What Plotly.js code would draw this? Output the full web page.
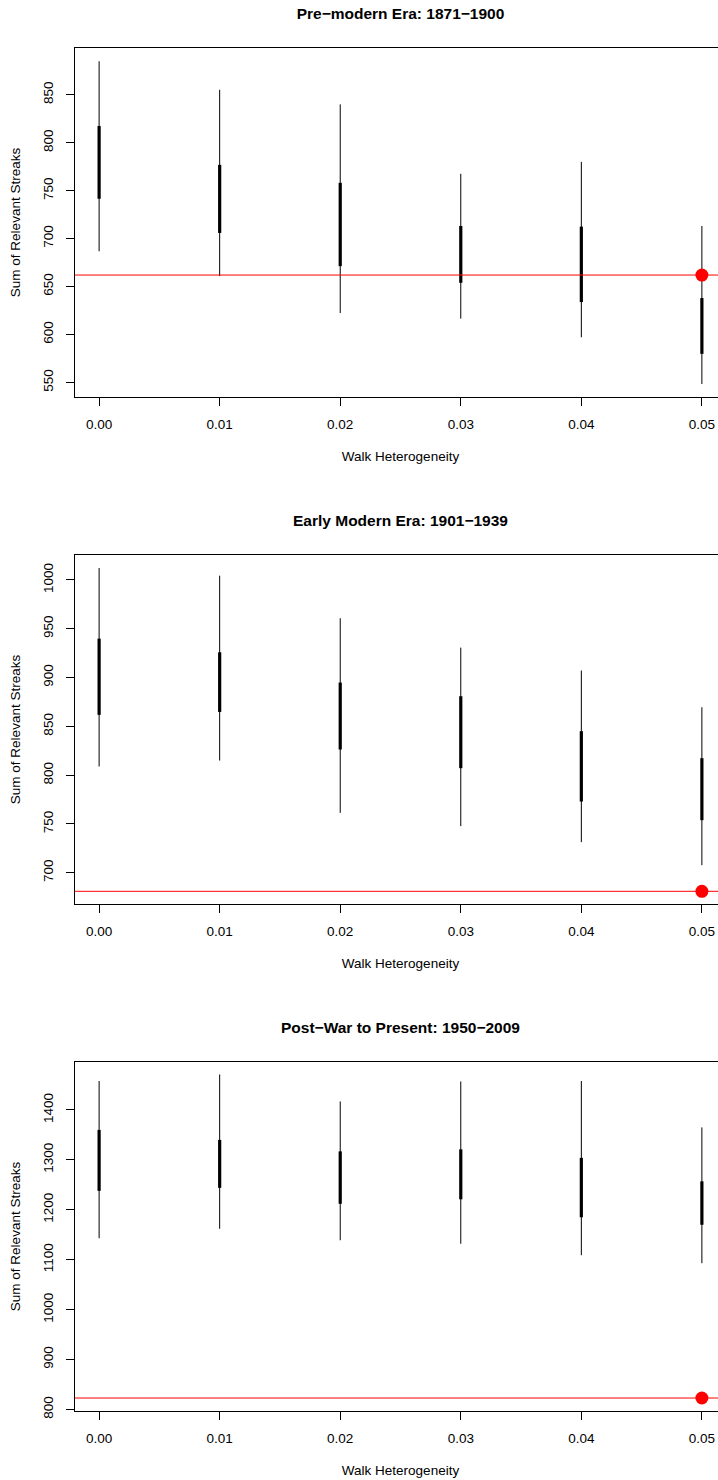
<!DOCTYPE html>
<html><head><meta charset="utf-8">
<script src="https://cdn.plot.ly/plotly-3.0.1.min.js"></script>
<style>
html,body{margin:0;padding:0;background:#fff;overflow:hidden;width:718px;height:1480px}
.p{width:760px;height:507px}
</style>
</head><body>
<div id="p1" class="p"></div><div id="p2" class="p"></div><div id="p3" class="p"></div>
<script>
// ---- data ----
const heterogeneity = [0.00, 0.01, 0.02, 0.03, 0.04, 0.05];
const xTickText = ["0.00", "0.01", "0.02", "0.03", "0.04", "0.05"];

const titles = ["Pre\u2212modern Era: 1871\u22121900", "Early Modern Era: 1901\u22121939", "Post\u2212War to Present: 1950\u22122009"];

const preWhiskerLow  = [686.8, 660.9, 622.4, 616.5, 597.1, 548.3];
const preWhiskerHigh = [885.0, 855.2, 840.0, 767.6, 780.0, 713.2];
const preBoxLow      = [741.6, 705.9, 671.3, 653.9, 633.8, 579.8];
const preBoxHigh     = [817.5, 776.9, 758.2, 713.2, 712.5, 638.0];
const preObserved    = 662;
const preYTicks      = [550, 600, 650, 700, 750, 800, 850];

const earlyWhiskerLow  = [808.9, 815.0, 761.4, 747.8, 731.4, 707.8];
const earlyWhiskerHigh = [1012.3, 1004.4, 960.8, 930.7, 907.2, 869.6];
const earlyBoxLow      = [861.8, 864.8, 826.3, 807.2, 773.0, 753.9];
const earlyBoxHigh     = [939.9, 925.9, 894.9, 880.9, 845.1, 817.4];
const earlyObserved    = 681;
const earlyYTicks      = [700, 750, 800, 850, 900, 950, 1000];

const postWhiskerLow  = [1143, 1162, 1139, 1132, 1109, 1093];
const postWhiskerHigh = [1458, 1471, 1417, 1457, 1458, 1365];
const postBoxLow      = [1238, 1244, 1212, 1221, 1185, 1170];
const postBoxHigh     = [1360, 1340, 1317, 1321, 1304, 1257];
const postObserved    = 823;
const postYTicks      = [800, 900, 1000, 1100, 1200, 1300, 1400];

const yRanges = [[534.8, 898.8], [668.0, 1025.6], [797.0, 1496.0]];

// ---- drawing ----
function segments(xs, lo, hi) {
  const x = [], y = [];
  xs.forEach((v, i) => { x.push(v, v, null); y.push(lo[i], hi[i], null); });
  return {x, y};
}

const FONT = 'Liberation Sans, Arial, Helvetica, sans-serif';

function draw(id, title, wLo, wHi, bLo, bHi, obs, yTicks, yRange) {
  const w = segments(heterogeneity, wLo, wHi);
  const b = segments(heterogeneity, bLo, bHi);
  const traces = [
    {type: 'scatter', mode: 'lines', x: w.x, y: w.y, line: {color: '#000', width: 1}, hoverinfo: 'skip'},
    {type: 'scatter', mode: 'lines', x: b.x, y: b.y, line: {color: '#000', width: 3.2}, hoverinfo: 'skip'},
    {type: 'scatter', mode: 'lines', x: [-0.002, 0.052], y: [obs, obs], line: {color: '#ff0000', width: 1}, hoverinfo: 'skip'},
    {type: 'scatter', mode: 'markers', x: [heterogeneity[heterogeneity.length - 1]], y: [obs],
     marker: {color: '#ff0000', size: 13, line: {width: 0}}, hoverinfo: 'skip'}
  ];
  const layout = {
    width: 760, height: 507,
    margin: {l: 74.5, r: 33.5, t: 47.5, b: 109.5, pad: 0},
    paper_bgcolor: '#fff', plot_bgcolor: '#fff',
    showlegend: false,
    font: {family: FONT, color: '#000', size: 13.5},
    title: {text: title, font: {family: FONT, size: 15.5, weight: 'bold', color: '#000'},
            x: 0.5, xref: 'paper', xanchor: 'center', y: 1 - 14 / 507, yref: 'container', yanchor: 'middle'},
    xaxis: {
      range: [-0.002, 0.052], tickmode: 'array', tickvals: heterogeneity, ticktext: xTickText,
      ticks: 'outside', ticklen: 8, tickwidth: 1, tickcolor: '#000',
      showline: true, mirror: true, linecolor: '#000', linewidth: 1,
      showgrid: false, zeroline: false, automargin: false, ticklabelstandoff: 7,
      tickfont: {size: 13.5},
      title: {text: 'Walk Heterogeneity', font: {size: 13.5}, standoff: 20}
    },
    yaxis: {
      range: yRange, tickmode: 'array', tickvals: yTicks, ticktext: yTicks.map(String),
      tickangle: -90,
      ticks: 'outside', ticklen: 8, tickwidth: 1, tickcolor: '#000',
      showline: true, mirror: true, linecolor: '#000', linewidth: 1,
      showgrid: false, zeroline: false, automargin: false, ticklabelstandoff: 8,
      tickfont: {size: 13.5},
      title: {text: 'Sum of Relevant Streaks', font: {size: 13.5}, standoff: 16}
    }
  };
  Plotly.newPlot(id, traces, layout, {staticPlot: true, displayModeBar: false});
}

draw('p1', titles[0], preWhiskerLow, preWhiskerHigh, preBoxLow, preBoxHigh, preObserved, preYTicks, yRanges[0]);
draw('p2', titles[1], earlyWhiskerLow, earlyWhiskerHigh, earlyBoxLow, earlyBoxHigh, earlyObserved, earlyYTicks, yRanges[1]);
draw('p3', titles[2], postWhiskerLow, postWhiskerHigh, postBoxLow, postBoxHigh, postObserved, postYTicks, yRanges[2]);
</script>
</body></html>
